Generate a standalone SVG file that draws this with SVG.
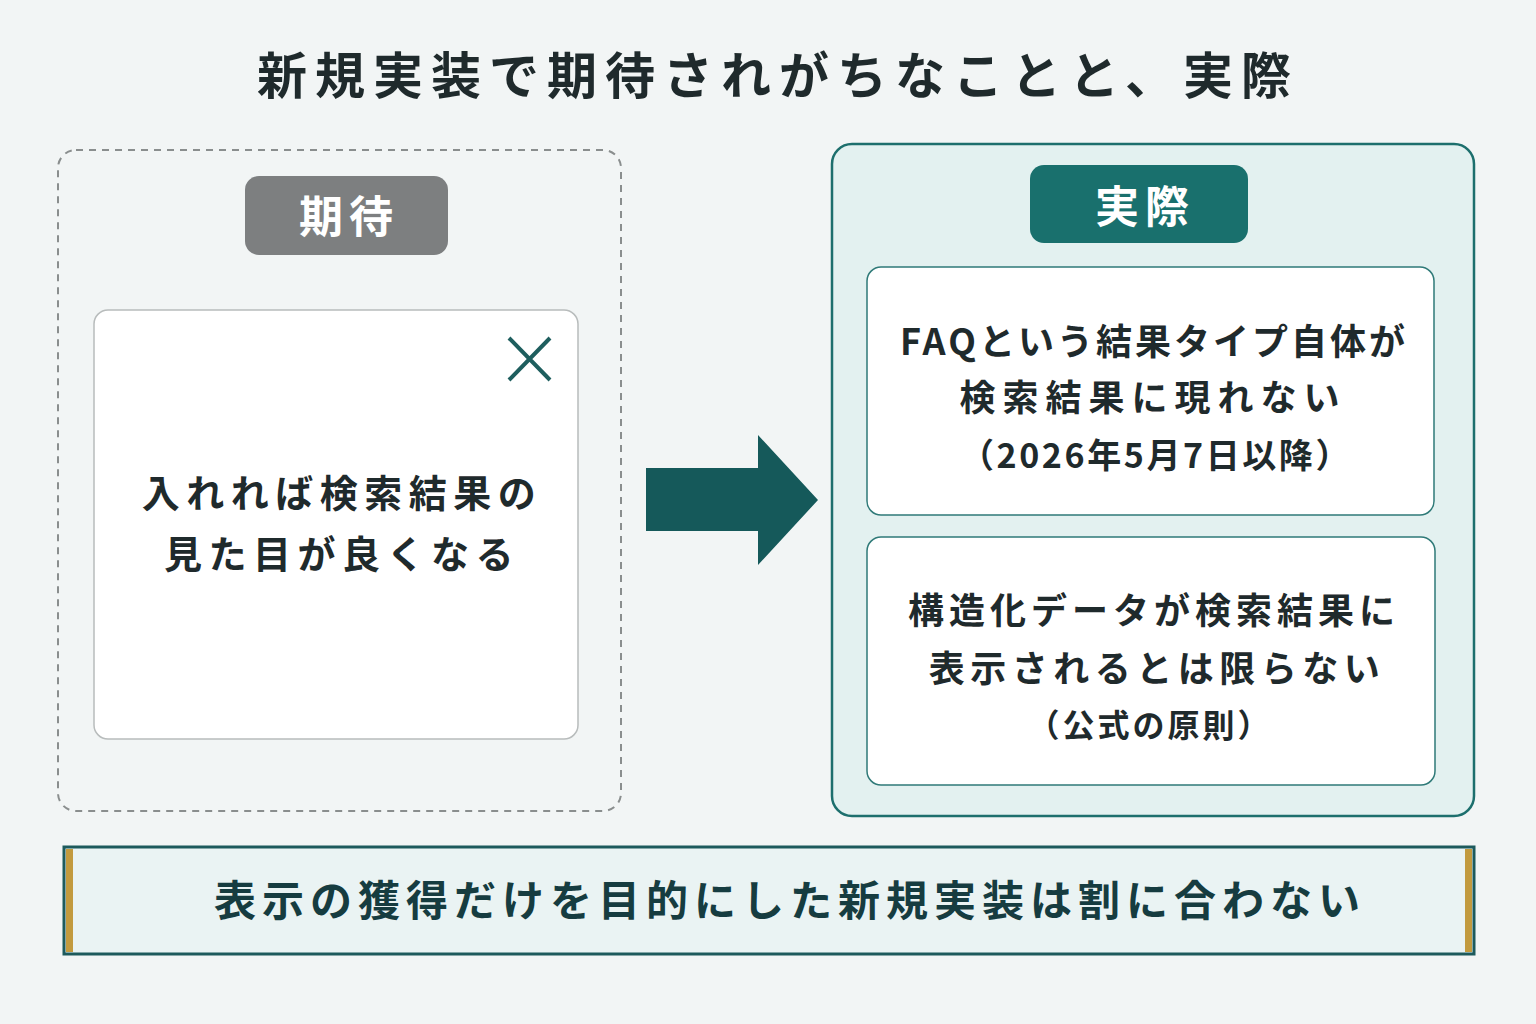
<svg xmlns="http://www.w3.org/2000/svg" width="1536" height="1024" viewBox="0 0 1536 1024">
<style>
text{font-family:"Noto Sans CJK JP","Noto Sans",sans-serif;font-weight:700;text-anchor:middle}
.card{fill:#fff;stroke:#b8bcbc;stroke-width:1.5}
.cardr{fill:#fff;stroke:#2f7a78;stroke-width:1.5}
</style>
<rect width="1536" height="1024" fill="#f2f5f5"/>
<text x="778" y="94" font-size="50" fill="#1f2a2c" letter-spacing="8">新規実装で期待されがちなことと、実際</text>
<g id="expect">
<rect x="58" y="150" width="563" height="661" rx="18" fill="none" stroke="#8a8e8e" stroke-width="2" stroke-dasharray="7 6"/>
<rect x="245" y="176" width="203" height="79" rx="14" fill="#7d7f80"/>
<text x="349" y="233" font-size="44" fill="#fff" letter-spacing="6">期待</text>
<rect x="94" y="310" width="484" height="429" rx="14" class="card"/>
<path d="M509 338 L550 380 M550 338 L509 380" stroke="#1e5e5e" stroke-width="4"/>
<text x="342" y="507" font-size="38" fill="#1f2a2c" letter-spacing="6.5">入れれば検索結果の</text>
<text x="342" y="568" font-size="38" fill="#1f2a2c" letter-spacing="6.5">見た目が良くなる</text>
</g>
<g id="connectors">
<polygon points="646,468 758,468 758,435 818,500 758,565 758,531 646,531" fill="#15595a"/>
</g>
<g id="actual">
<rect x="832" y="144" width="642" height="672" rx="20" fill="#e3f1f0" stroke="#1d6f6d" stroke-width="2.5"/>
<rect x="1030" y="165" width="218" height="78" rx="14" fill="#19706d"/>
<text x="1145" y="223" font-size="44" fill="#fff" letter-spacing="6">実際</text>
<rect x="867" y="267" width="567" height="248" rx="14" class="cardr"/>
<text x="1154" y="355" font-size="36" fill="#1f2a2c" letter-spacing="3">FAQという結果タイプ自体が</text>
<text x="1153" y="411" font-size="36" fill="#1f2a2c" letter-spacing="7">検索結果に現れない</text>
<text x="1156" y="468" font-size="34" fill="#1f2a2c" letter-spacing="2.6">（2026年5月7日以降）</text>
<rect x="867" y="537" width="568" height="248" rx="14" class="cardr"/>
<text x="1154" y="624" font-size="36" fill="#1f2a2c" letter-spacing="5">構造化データが検索結果に</text>
<text x="1157" y="682" font-size="36" fill="#1f2a2c" letter-spacing="5.5">表示されるとは限らない</text>
<text x="1150" y="737" font-size="32" fill="#1f2a2c" letter-spacing="3">（公式の原則）</text>
</g>
<g id="banner">
<rect x="64" y="847" width="1410" height="107" fill="#eaf3f3" stroke="#1d5a5c" stroke-width="3"/>
<rect x="66" y="849" width="7" height="103" fill="#c29a3e"/>
<rect x="1465" y="849" width="7" height="103" fill="#c29a3e"/>
<text x="790" y="916" font-size="42" fill="#163c40" letter-spacing="6">表示の獲得だけを目的にした新規実装は割に合わない</text>
</g>
</svg>
